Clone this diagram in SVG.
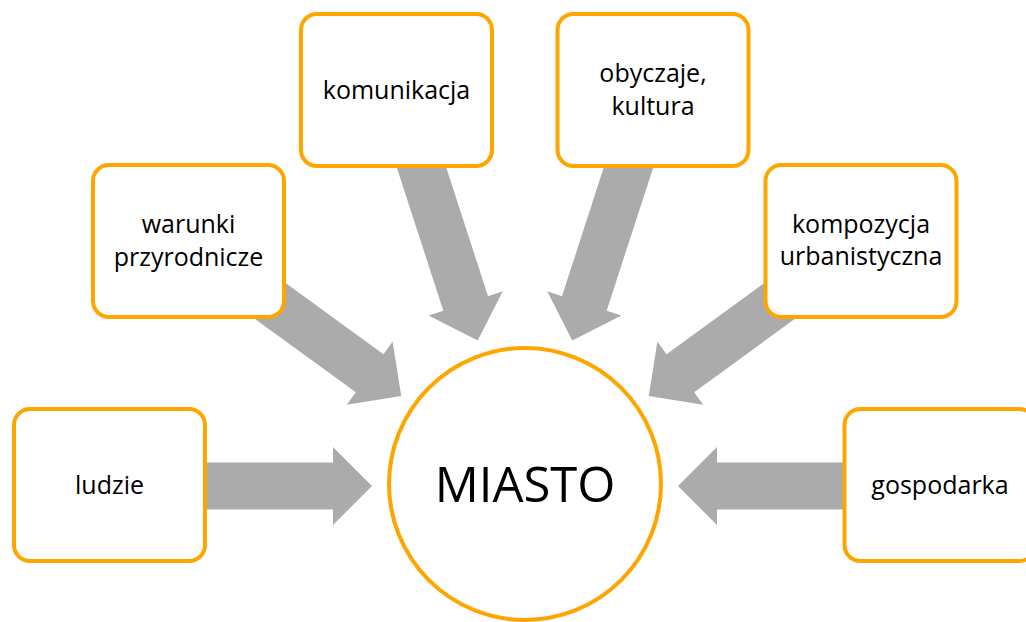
<svg xmlns="http://www.w3.org/2000/svg" width="1026" height="622" viewBox="0 0 1026 622">
  <style>
    .box { fill: #FFFFFF; stroke: #FFA500; stroke-width: 4; }
    .arrow { fill: #ABABAB; stroke: none; }
    .lbl { font-family: "Open Sans", "Noto Sans", "Liberation Sans", sans-serif; font-size: 25px; fill: #000000; text-anchor: middle; }
    .big { font-family: "Open Sans", "Noto Sans", "Liberation Sans", sans-serif; font-size: 49px; fill: #000000; text-anchor: middle; }
  </style>
  <defs>
    <polygon id="arr" class="arrow" points="-355,-23.5 -192,-23.5 -192,-39 -153,0 -192,39 -192,23.5 -355,23.5"/>
  </defs>
  <rect width="1026" height="622" fill="#FFFFFF"/>
  <g id="connectors">
    <use href="#arr" transform="translate(525,486) rotate(0)"/>
    <use href="#arr" transform="translate(525,486) rotate(36)"/>
    <use href="#arr" transform="translate(525,486) rotate(72)"/>
    <use href="#arr" transform="translate(525,486) rotate(108)"/>
    <use href="#arr" transform="translate(525,486) rotate(144)"/>
    <use href="#arr" transform="translate(525,486) rotate(180)"/>
  </g>
  <g id="miasto">
    <circle class="box" cx="525" cy="484" r="136"/>
    <text class="big" x="525" y="501.5">MIASTO</text>
  </g>
  <g id="ludzie">
    <rect class="box" x="14" y="409" width="191" height="152" rx="16"/>
    <text class="lbl" x="109.5" y="494">ludzie</text>
  </g>
  <g id="warunki">
    <rect class="box" x="93" y="165" width="191" height="152" rx="16"/>
    <text class="lbl" x="188.5" y="233">warunki</text>
    <text class="lbl" x="188.5" y="266">przyrodnicze</text>
  </g>
  <g id="komunikacja">
    <rect class="box" x="301" y="14" width="191" height="152" rx="16"/>
    <text class="lbl" x="396.5" y="99">komunikacja</text>
  </g>
  <g id="obyczaje">
    <rect class="box" x="557.5" y="14" width="191" height="152" rx="16"/>
    <text class="lbl" x="653" y="82">obyczaje,</text>
    <text class="lbl" x="653" y="115">kultura</text>
  </g>
  <g id="kompozycja">
    <rect class="box" x="765.5" y="165" width="191" height="152" rx="16"/>
    <text class="lbl" x="861" y="233">kompozycja</text>
    <text class="lbl" x="861" y="265">urbanistyczna</text>
  </g>
  <g id="gospodarka">
    <rect class="box" x="844.5" y="409" width="191" height="152" rx="16"/>
    <text class="lbl" x="940" y="494">gospodarka</text>
  </g>
</svg>
